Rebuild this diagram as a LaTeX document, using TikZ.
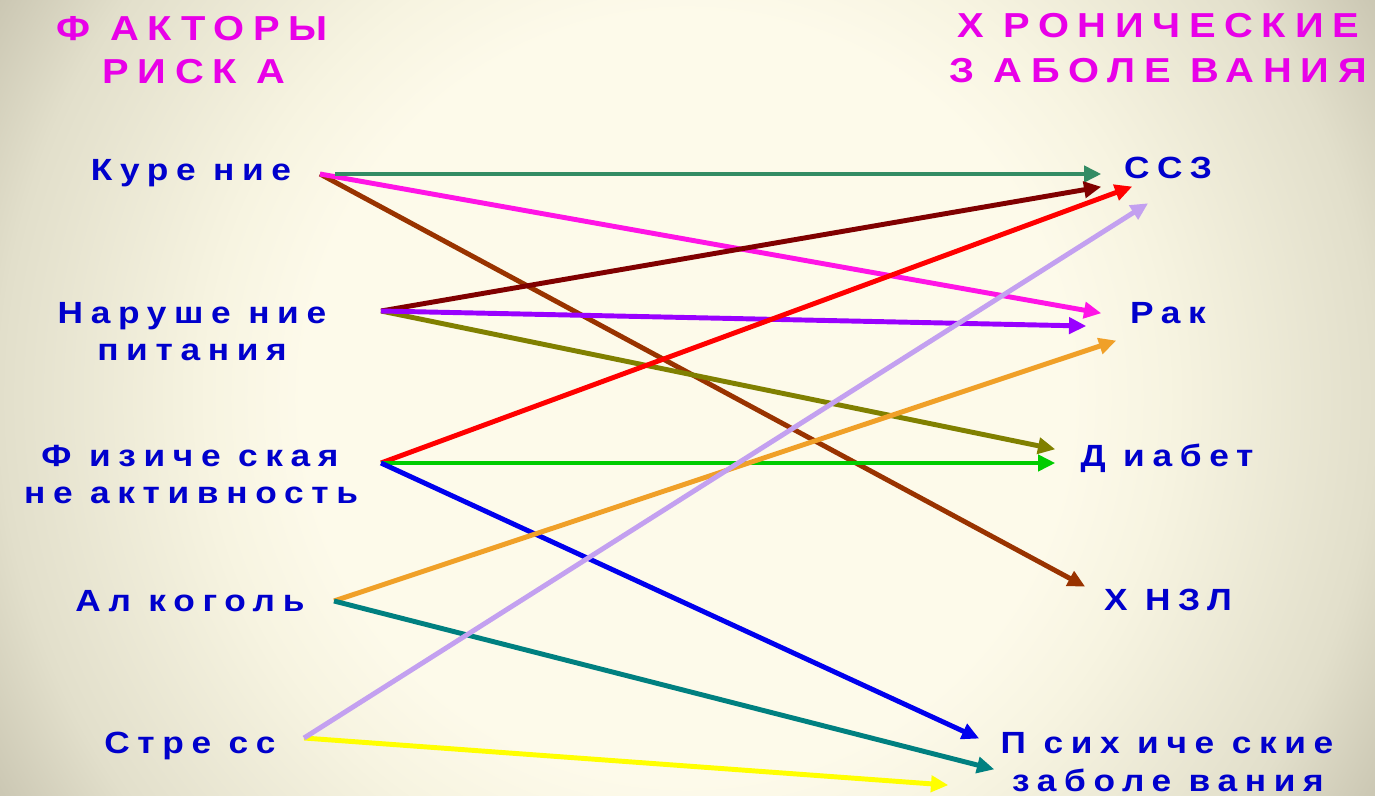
\documentclass[tikz,border=0pt]{standalone}
\usepackage{fontspec}
\newfontfamily\lblfont[LetterSpace=25,FakeStretch=1.15]{Liberation Sans}
\usetikzlibrary{arrows.meta}
\definecolor{bgA}{RGB}{253,250,234}
\definecolor{bgB}{RGB}{247,244,225}
\definecolor{bgC}{RGB}{226,223,203}
\definecolor{bgD}{RGB}{202,198,178}
\definecolor{txtblue}{RGB}{0,0,204}
\definecolor{txtmag}{RGB}{232,0,232}
\definecolor{cTealGreen}{RGB}{51,140,100}
\definecolor{cMagenta}{RGB}{255,20,230}
\definecolor{cBrown}{RGB}{153,51,0}
\definecolor{cMaroon}{RGB}{128,0,0}
\definecolor{cPurple}{RGB}{153,0,255}
\definecolor{cOlive}{RGB}{128,128,0}
\definecolor{cRed}{RGB}{255,0,0}
\definecolor{cGreen}{RGB}{0,204,0}
\definecolor{cBlue}{RGB}{0,0,238}
\definecolor{cOrange}{RGB}{240,160,40}
\definecolor{cTeal}{RGB}{0,128,128}
\definecolor{cLav}{RGB}{195,160,240}
\definecolor{cYellow}{RGB}{255,255,0}
\pgfdeclareradialshading{bgshade}{\pgfpoint{0bp}{0bp}}{%
  color(0bp)=(bgA); color(12bp)=(bgA); color(15bp)=(bgB); color(21.5bp)=(bgC); color(25bp)=(bgD); color(50bp)=(bgD)}
\begin{document}
\begin{tikzpicture}[x=0.75pt,y=-0.75pt,
  hdr/.style={font=\lblfont\bfseries\fontsize{26}{30}\selectfont, text=txtmag, anchor=base, inner sep=0pt},
  lbl/.style={font=\lblfont\bfseries\fontsize{23}{27}\selectfont, text=txtblue, anchor=base, inner sep=0pt},
  arr/.style={line width=3.7pt, -{Triangle[length=13pt,width=12pt]}, shorten >=-1pt}]
\useasboundingbox (0,0) rectangle (1375,796);
\begin{scope}
\clip (0,0) rectangle (1375,796);
\shade[shading=bgshade] (687,398) circle [radius=800];
\end{scope}
% headers
\node[hdr] (fak1) at (192,40) {Ф АКТОРЫ};
\node[hdr] (fak2) at (194,83) {РИСК А};
\node[hdr] (hron1) at (1158,37) {Х РОНИЧЕСКИЕ};
\node[hdr] (hron2) at (1158,82) {З АБОЛЕ ВАНИЯ};
% left labels
\node[lbl] (kur) at (191,180) {Куре ние};
\node[lbl] (nar1) at (192,323) {Наруше ние};
\node[lbl] (nar2) at (192,360) {питания};
\node[lbl] (fiz1) at (190,466) {Ф изиче ская};
\node[lbl] (fiz2) at (191,503) {не активность};
\node[lbl] (alk) at (190,611) {Ал коголь};
\node[lbl] (str) at (190,753) {Стре сс};
% right labels
\node[lbl] (ssz) at (1168,178) {ССЗ};
\node[lbl] (rak) at (1168,323) {Рак};
\node[lbl] (diab) at (1167,466) {Д иабет};
\node[lbl] (hnzl) at (1168,610) {Х НЗЛ};
\node[lbl] (psi1) at (1167,753) {П сих иче ские};
\node[lbl] (psi2) at (1168,791) {заболе вания};
% arrow start / end coordinates
\coordinate (sKurA) at (335,174);
\coordinate (sKur) at (320,174);
\coordinate (sNar) at (381,311);
\coordinate (sFiz) at (381,463);
\coordinate (sAlk) at (334,601);
\coordinate (sStr) at (304,738);
\coordinate (eSszA) at (1100,174);
\coordinate (eSszB) at (1100,187);
\coordinate (eSszC) at (1131,187);
\coordinate (eSszD) at (1147,204);
\coordinate (eRakA) at (1100,313);
\coordinate (eRakB) at (1085,326);
\coordinate (eRakC) at (1115,341);
\coordinate (eDiabA) at (1054,449);
\coordinate (eDiabB) at (1054,463);
\coordinate (eHnzl) at (1084,586);
\coordinate (ePsiA) at (978,738);
\coordinate (ePsiB) at (993,769);
\coordinate (ePsiC) at (947,785);
% arrows
\draw[arr, cBrown] (sKur) -- (eHnzl);
\draw[arr, cMagenta] (sKur) -- (eRakA);
\draw[arr, cTealGreen] (sKurA) -- (eSszA);
\draw[arr, cOlive] (sNar) -- (eDiabA);
\draw[arr, cMaroon] (sNar) -- (eSszB);
\draw[arr, cPurple] (sNar) -- (eRakB);
\draw[arr, cRed] (sFiz) -- (eSszC);
\draw[arr, cGreen] (sFiz) -- (eDiabB);
\draw[arr, cBlue] (sFiz) -- (ePsiA);
\draw[arr, cOrange] (sAlk) -- (eRakC);
\draw[arr, cTeal] (sAlk) -- (ePsiB);
\draw[arr, cYellow] (sStr) -- (ePsiC);
\draw[arr, cLav] (sStr) -- (eSszD);
\end{tikzpicture}
\end{document}
